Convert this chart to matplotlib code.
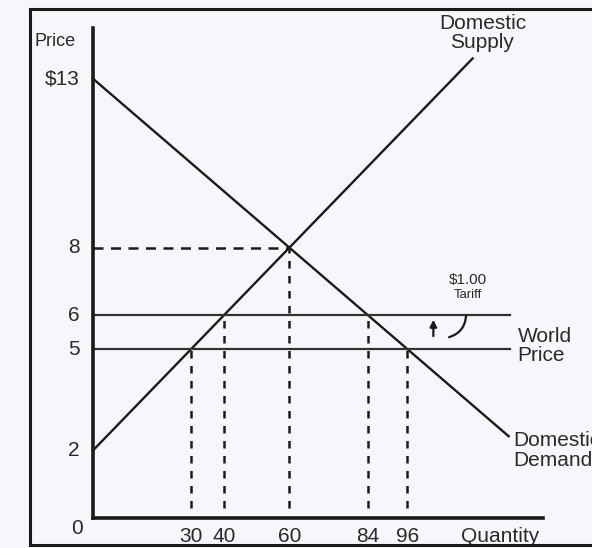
import matplotlib.pyplot as plt
from matplotlib.lines import Line2D

plt.rcParams['font.family'] = ['Liberation Sans', 'DejaVu Sans']

# Data
supply_q = [0, 116]
supply_p = [2, 13.6]
demand_q = [0, 127]
demand_p = [13, 2.42]
world_price = 5
tariff_price = 6
price_line_end = 127.5
eq_q, eq_p = 60, 8
mark_q = [30, 40, 60, 84, 96]
mark_p = [5, 6, 8, 6, 5]
q_labels = ['30', '40', '60', '84', '96']
p_ticks = [13, 8, 6, 5, 2]
p_labels = ['$13', '8', '6', '5', '2']

bg = '#f7f7fb'
ink = '#1a1a1a'
txt = '#2a2a2a'
fig = plt.figure(figsize=(5.92, 5.48), dpi=100, facecolor=bg)
ax = fig.add_axes([93/592, 30/548, 450/592, 490/548], facecolor=bg)
ax.set_xlim(0, 137.5)
ax.set_ylim(0, 14.5)

# axes look
for s in ['top', 'right']:
    ax.spines[s].set_visible(False)
for s in ['left', 'bottom']:
    ax.spines[s].set_linewidth(2.6)
    ax.spines[s].set_color(ink)
ax.set_xticks([])
ax.set_yticks([])

# curves
ax.plot(supply_q, supply_p, color=ink, lw=1.7, clip_on=False)
ax.plot(demand_q, demand_p, color=ink, lw=1.7, clip_on=False)
ax.plot([0, price_line_end], [world_price, world_price], color='#333333', lw=1.6)
ax.plot([0, price_line_end], [tariff_price, tariff_price], color='#333333', lw=1.6)

# dashed guides
ax.plot([0, eq_q], [eq_p, eq_p], color=ink, lw=1.8, ls=(0, (4, 3)))
for q, p in zip(mark_q, mark_p):
    ax.plot([q, q], [0.3, p], color=ink, lw=1.8, ls=(0, (3, 3)))

# price labels
ax.text(-17.9, 14.1, 'Price', fontsize=13, ha='left', va='center', color=txt)
for p, lab in zip(p_ticks, p_labels):
    ax.text(-4, p, lab, fontsize=15, ha='right', va='center', color=txt)
ax.text(-5, -0.3, '0', fontsize=15, ha='center', va='center', color=txt)

# quantity labels
for q, lab in zip(mark_q, q_labels):
    ax.text(q, -0.55, lab, fontsize=15, ha='center', va='center', color=txt)
ax.text(124.5, -0.55, 'Quantity', fontsize=15, ha='center', va='center', color=txt)

# curve labels
ax.text(119, 14.35, 'Domestic\nSupply', fontsize=15, ha='center', va='center',
        color=txt, linespacing=1.05)
ax.text(128.4, 2.0, 'Domestic\nDemand', fontsize=15, ha='left', va='center',
        color=txt, linespacing=1.05, clip_on=False)
ax.text(129.7, 5.09, 'World\nPrice', fontsize=15, ha='left', va='center',
        color=txt, linespacing=1.05)

# tariff annotation
ax.text(114.5, 7.05, '$1.00', fontsize=11, ha='center', va='center', color=txt)
ax.text(114.5, 6.6, 'Tariff', fontsize=9.5, ha='center', va='center', color=txt)
ax.annotate('', xy=(104, 5.95), xytext=(104, 5.3),
            arrowprops=dict(arrowstyle='-|>', color=ink, lw=1.6, mutation_scale=10))
ax.annotate('', xy=(114, 6.07), xytext=(108, 5.33),
            arrowprops=dict(arrowstyle='-', color=ink, lw=1.6,
                            connectionstyle='arc3,rad=0.4'))

# scanned frame
fig.add_artist(Line2D([30/592, 30/592], [0.005, 1 - 9/548], color=ink, lw=2.2))
fig.add_artist(Line2D([30/592, 1], [1 - 9/548, 1 - 9/548], color=ink, lw=2.2))
fig.add_artist(Line2D([30/592, 1], [1 - 545/548, 1 - 545/548], color=ink, lw=2.2))

fig.savefig('out.png', dpi=100, facecolor=bg)
